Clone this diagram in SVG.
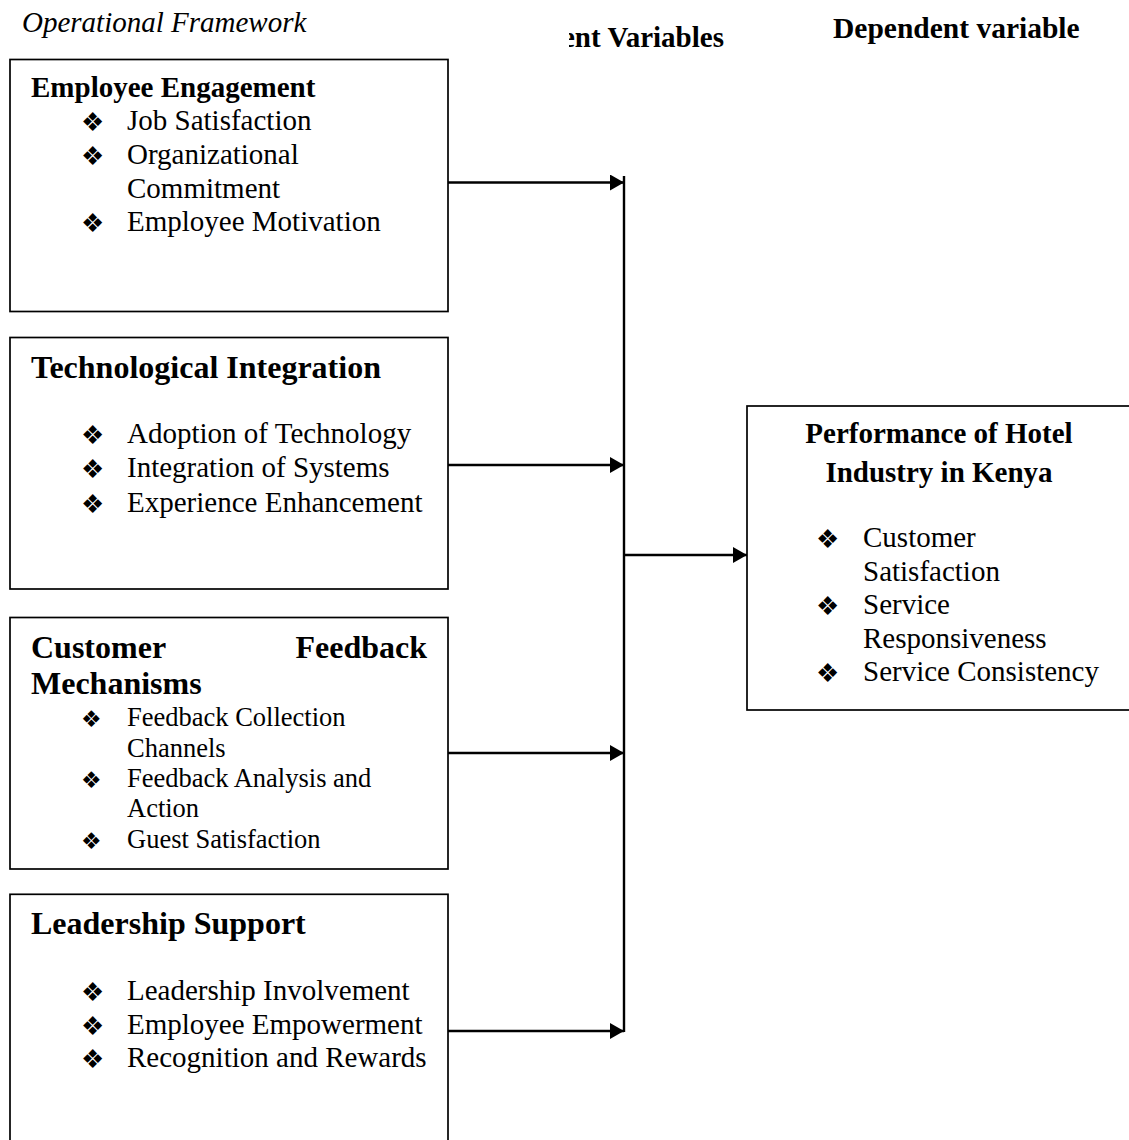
<svg xmlns="http://www.w3.org/2000/svg" width="1129" height="1140" viewBox="0 0 1129 1140">
<style>
.box{fill:#fff;stroke:#000;stroke-width:1.7}
.t{font-family:"Liberation Serif","Times New Roman",serif;fill:#000}
.h{font-weight:bold;font-size:29px}
.h2{font-weight:bold;font-size:32px}
.it{font-size:29px}
.sm{font-size:26.5px}
.b{font-family:"DejaVu Sans",sans-serif;font-size:26px;fill:#000}
.bs{font-family:"DejaVu Sans",sans-serif;font-size:23px;fill:#000}
.c{stroke:#000;stroke-width:2.4;fill:none}
</style>
<defs>
<marker id="ah" viewBox="0 0 14 16" refX="14" refY="8" markerWidth="14" markerHeight="16" markerUnits="userSpaceOnUse" orient="auto">
<path d="M0,0 L14,8 L0,16 Z" fill="#000"/>
</marker>
<clipPath id="clipIV"><rect x="569" y="0" width="300" height="60"/></clipPath>
</defs>
<rect width="1129" height="1140" fill="#fff"/>
<g id="titles">
<text class="t" x="22" y="31.5" font-size="29" font-style="italic">Operational Framework</text>
<text class="t h" x="562" y="46.5" font-size="29.5" clip-path="url(#clipIV)">ent Variables</text>
<text class="t h" x="833" y="37.5" style="font-size:29.5px">Dependent variable</text>
</g>
<g id="connectors">
<path class="c" d="M448,182.5 H624" marker-end="url(#ah)"/>
<path class="c" d="M448,465 H624" marker-end="url(#ah)"/>
<path class="c" d="M448,753 H624" marker-end="url(#ah)"/>
<path class="c" d="M448,1031 H624" marker-end="url(#ah)"/>
<path class="c" d="M624,176 V1032"/>
<path class="c" d="M624,555 H747" marker-end="url(#ah)"/>
</g>
<g id="node-employee-engagement">
<rect class="box" x="10" y="59.5" width="438" height="252"/>
<text class="t h" x="31" y="96.7">Employee Engagement</text>
<text class="b" x="81" y="131">❖</text><text class="t it" x="127" y="130">Job Satisfaction</text>
<text class="b" x="81" y="165">❖</text><text class="t it" x="127" y="164">Organizational</text>
<text class="t it" x="127" y="197.5">Commitment</text>
<text class="b" x="81" y="232">❖</text><text class="t it" x="127" y="231">Employee Motivation</text>
</g>
<g id="node-technological-integration">
<rect class="box" x="10" y="337.5" width="438" height="251.5"/>
<text class="t h2" x="31" y="378.3">Technological Integration</text>
<text class="b" x="81" y="444">❖</text><text class="t it" x="127" y="443">Adoption of Technology</text>
<text class="b" x="81" y="478">❖</text><text class="t it" x="127" y="477">Integration of Systems</text>
<text class="b" x="81" y="513">❖</text><text class="t it" x="127" y="512">Experience Enhancement</text>
</g>
<g id="node-customer-feedback">
<rect class="box" x="10" y="617.5" width="438" height="251.5"/>
<text class="t h2" x="31" y="658.3">Customer</text>
<text class="t h2" x="427" y="658.3" text-anchor="end">Feedback</text>
<text class="t h2" x="31" y="694">Mechanisms</text>
<text class="bs" x="81" y="727">❖</text><text class="t sm" x="127" y="726">Feedback Collection</text>
<text class="t sm" x="127" y="756.7">Channels</text>
<text class="bs" x="81" y="788">❖</text><text class="t sm" x="127" y="786.7">Feedback Analysis and</text>
<text class="t sm" x="127" y="817.3">Action</text>
<text class="bs" x="81" y="849">❖</text><text class="t sm" x="127" y="848.3">Guest Satisfaction</text>
</g>
<g id="node-leadership-support">
<rect class="box" x="10" y="894.3" width="438" height="260"/>
<text class="t h2" x="31" y="934.3">Leadership Support</text>
<text class="b" x="81" y="1001">❖</text><text class="t it" x="127" y="1000">Leadership Involvement</text>
<text class="b" x="81" y="1035">❖</text><text class="t it" x="127" y="1034">Employee Empowerment</text>
<text class="b" x="81" y="1068">❖</text><text class="t it" x="127" y="1067">Recognition and Rewards</text>
</g>
<g id="node-performance">
<rect class="box" x="747" y="406" width="400" height="304"/>
<text class="t h" x="939" y="443" text-anchor="middle">Performance of Hotel</text>
<text class="t h" x="939" y="482" text-anchor="middle">Industry in Kenya</text>
<text class="b" x="816" y="548">❖</text><text class="t it" x="863" y="547">Customer</text>
<text class="t it" x="863" y="581">Satisfaction</text>
<text class="b" x="816" y="615">❖</text><text class="t it" x="863" y="614">Service</text>
<text class="t it" x="863" y="648">Responsiveness</text>
<text class="b" x="816" y="682">❖</text><text class="t it" x="863" y="681">Service Consistency</text>
</g>
</svg>
